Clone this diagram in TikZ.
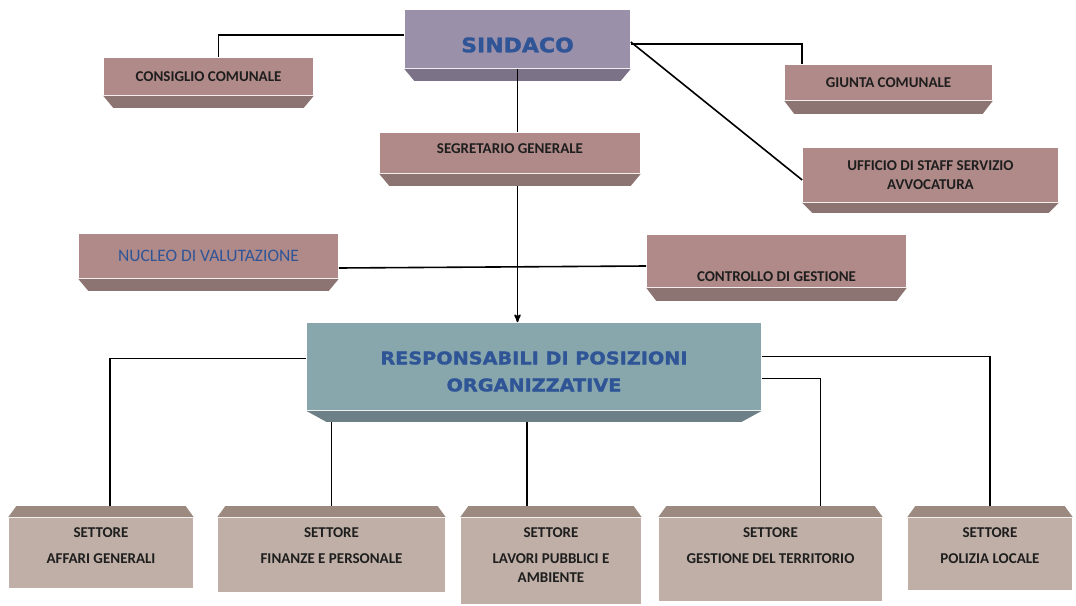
\documentclass[tikz,border=0pt]{standalone}
\usepackage{fontspec}
\setmainfont{Carlito}
\newfontfamily\headfont[FakeStretch=1.1,FakeBold=1.5]{DejaVu Sans}
\usepackage{xcolor}
\usetikzlibrary{arrows}
\usetikzlibrary{calc}
\usetikzlibrary{positioning}

\definecolor{sindfill}{HTML}{9A90AA}
\definecolor{sinddark}{HTML}{7B7287}
\definecolor{rosefill}{HTML}{B08A88}
\definecolor{rosedark}{HTML}{8C7472}
\definecolor{respfill}{HTML}{87A7AD}
\definecolor{respdark}{HTML}{6D8087}
\definecolor{settfill}{HTML}{BFAFA6}
\definecolor{settdark}{HTML}{9C8A80}
\definecolor{headblue}{HTML}{2F5597}
\definecolor{txtdark}{HTML}{1E1E1E}

\begin{document}
\begin{tikzpicture}[x=1pt,y=-1pt,>=stealth',line width=1.6pt,
  font=\bfseries\fontsize{15}{19}\selectfont]
  \tikzstyle{box}=[rectangle, inner sep=0pt, align=center, text=txtdark]
  \tikzstyle{rose}=[box, fill=rosefill]
  \tikzstyle{sett}=[box, fill=settfill]
  \tikzstyle{head}=[inner sep=0pt, align=center, text=headblue]
  \useasboundingbox (0,0) rectangle (1076,605);

  % vertici
  \node[box, fill=sindfill, minimum width=225pt, minimum height=58pt,
        label={[head, yshift=-6pt, font=\headfont\bfseries\fontsize{20}{24}\selectfont]center:SINDACO}] (S) at (517.5,39) {};
  \node[rose, minimum width=209pt, minimum height=37pt] (CC) at (208.5,76.5) {CONSIGLIO COMUNALE};
  \node[rose, minimum width=207pt, minimum height=35pt] (GC) at (888.5,82.5) {GIUNTA COMUNALE};
  \node[rose, minimum width=260pt, minimum height=40pt,
        label={[inner sep=0pt, yshift=4pt, text=txtdark]center:SEGRETARIO GENERALE}] (SG) at (510,153) {};
  \node[rose, minimum width=255pt, minimum height=54pt] (UF) at (930.5,175) {UFFICIO DI STAFF SERVIZIO\\AVVOCATURA};
  \node[rose, minimum width=259pt, minimum height=44pt, text=headblue, font=\mdseries\fontsize{17.5}{20}\selectfont] (NV) at (208.5,256) {NUCLEO DI VALUTAZIONE};
  \node[rose, minimum width=259pt, minimum height=52pt,
        label={[anchor=south, inner sep=0pt, yshift=5pt, text=txtdark]south:CONTROLLO DI GESTIONE}] (CG) at (776.5,261) {};
  \node[box, fill=respfill, minimum width=454pt, minimum height=87pt,
        label={[head, yshift=-5pt, font=\headfont\bfseries\fontsize{17.5}{27}\selectfont]center:RESPONSABILI DI POSIZIONI\\ORGANIZZATIVE}] (R) at (534,366.5) {};

  \node[sett, minimum width=184pt, minimum height=70pt,
        label={[anchor=north, inner sep=0pt, yshift=-10pt, align=center, text=txtdark]north:SETTORE\\[7pt]AFFARI GENERALI}] (AG) at (101,553) {};
  \node[sett, minimum width=227pt, minimum height=74pt,
        label={[anchor=north, inner sep=0pt, yshift=-10pt, align=center, text=txtdark]north:SETTORE\\[7pt]FINANZE E PERSONALE}] (FP) at (331.5,555) {};
  \node[sett, minimum width=180pt, minimum height=86pt,
        label={[anchor=north, inner sep=0pt, yshift=-10pt, align=center, text=txtdark]north:SETTORE\\[7pt]LAVORI PUBBLICI E\\AMBIENTE}] (LA) at (551,561) {};
  \node[sett, minimum width=223pt, minimum height=83pt,
        label={[anchor=north, inner sep=0pt, yshift=-10pt, align=center, text=txtdark]north:SETTORE\\[7pt]GESTIONE DEL TERRITORIO}] (GT) at (770.5,559.5) {};
  \node[sett, minimum width=164pt, minimum height=72pt,
        label={[anchor=north, inner sep=0pt, yshift=-10pt, align=center, text=txtdark]north:SETTORE\\[7pt]POLIZIA LOCALE}] (PL) at (990,554) {};

  % smussi
  \foreach \n/\c/\i/\h in {S/sinddark/10/12, CC/rosedark/10/12, GC/rosedark/10/13,
                           SG/rosedark/10/12, UF/rosedark/10/10, NV/rosedark/10/12,
                           CG/rosedark/10/13, R/respdark/20/11}
    \fill[\c] (\n.south west) -- (\n.south east) -- ++(-\i,\h) -- ($(\n.south west)+(\i,\h)$) -- cycle;
  \foreach \n in {AG,FP,LA,GT,PL}
    \fill[settdark] (\n.north west) -- (\n.north east) -- ++(-8,-11) -- ($(\n.north west)+(8,-11)$) -- cycle;

  % collegamenti
  \draw ([yshift=4pt]S.west) -| ([xshift=10pt]CC.north);
  \draw ([yshift=-5pt]S.east) -| ([xshift=18pt]GC.north west);
  \draw ([yshift=-3pt]S.east) -- ([yshift=-5pt]UF.west);
  \draw (S.south) -- (S.south |- SG.north);
  \draw[->] ($(S.south |- SG.south)+(0,12)$) -- (S.south |- R.north);
  \draw ([yshift=-12pt]NV.east) -- ([yshift=-5pt]CG.west);
  \draw ([yshift=8pt]R.west) -| ([xshift=9pt,yshift=11pt]AG.north);
  \draw ($(FP.north |- R.south)+(0,11)$) -- ([yshift=11pt]FP.north);
  \draw ($(LA.north |- R.south)+(-24,11)$) -- ([xshift=-24pt,yshift=11pt]LA.north);
  \draw ([yshift=10pt]R.east) -| ([yshift=11pt]PL.north);
  \draw ([yshift=-12pt]R.east) -| ([xshift=50pt,yshift=11pt]GT.north);
\end{tikzpicture}
\end{document}
